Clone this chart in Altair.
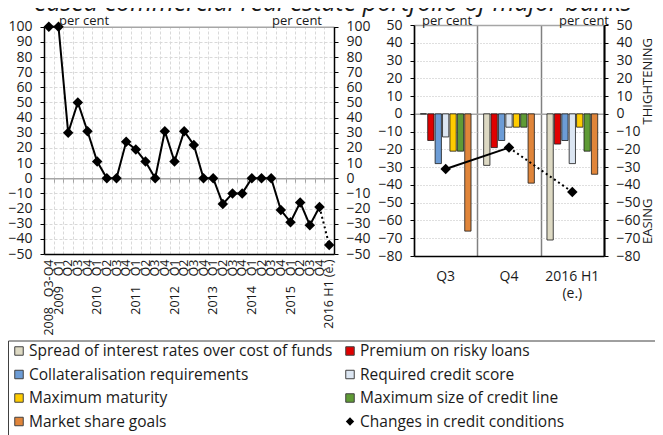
import json
import altair as alt
import pandas as pd

# ---------------- data ----------------
NB = "\u00a0" * 3
period_keys = [
    "2008 Q3-Q4",
    "2009 Q1", "2009 Q2", "2009 Q3", "2009 Q4",
    "2010 Q1", "2010 Q2", "2010 Q3", "2010 Q4",
    "2011 Q1", "2011 Q2", "2011 Q3", "2011 Q4",
    "2012 Q1", "2012 Q2", "2012 Q3", "2012 Q4",
    "2013 Q1", "2013 Q2", "2013 Q3", "2013 Q4",
    "2014 Q1", "2014 Q2", "2014 Q3", "2014 Q4",
    "2015 Q1", "2015 Q2", "2015 Q3", "2015 Q4",
    "2016 H1 (e.)",
]
period_labels = [
    "2008" + NB + "Q3-Q4",
    "2009" + NB + "Q1", "Q2", "Q3", "Q4",
    "2010" + NB + "Q1", "Q2", "Q3", "Q4",
    "2011" + NB + "Q1", "Q2", "Q3", "Q4",
    "2012" + NB + "Q1", "Q2", "Q3", "Q4",
    "2013" + NB + "Q1", "Q2", "Q3", "Q4",
    "2014" + NB + "Q1", "Q2", "Q3", "Q4",
    "2015" + NB + "Q1", "Q2", "Q3", "Q4",
    "2016 H1 (e.)",
]
change_values = [100, 100, 30, 50, 31, 11, 0, 0, 24, 19, 11, 0, 31, 11, 31, 22,
                 0, 0, -17, -10, -10, 0, 0, 0, -21, -29, -16, -31, -19, -44]

groups = ["Q3", "Q4", "2016 H1 (e.)"]
series = [
    "Spread of interest rates over cost of funds",
    "Premium on risky loans",
    "Collateralisation requirements",
    "Required credit score",
    "Maximum maturity",
    "Maximum size of credit line",
    "Market share goals",
]
series_colors = ["#DDD9C3", "#E00000", "#6C9CD6", "#DCE6F2", "#FFCC00", "#5F9B35", "#E0853A"]
q3_values = [0, -15, -28, -13, -21, -21, -66]
q4_values = [-29, -19, -15, -7.5, -7.5, -7.5, -39]
h1_values = [-71, -17, -15, -28, -7.5, -21, -34]
recent_changes = [-31, -19, -44]
line_label = "Changes in credit conditions"

title_text = "eased commercial real estate portfolio of major banks"
unit_text = "per cent"
tight_text = "THIGHTENING"
easing_text = "EASING"

# ---------------- layout / style ----------------
W, H = 647, 427
FONT = "Open Sans"
TXT = "#1a1a1a"
LX = [36, 326]
LY = [246, 18.7]          # pixel range for -50 .. 100
RX = [406, 596]
RY = [248, 17]            # pixel range for -80 .. 50
L_DOM = [-50, 100]
R_DOM = [-80, 50]
l_zero = LY[0] + (0 - L_DOM[0]) / (L_DOM[1] - L_DOM[0]) * (LY[1] - LY[0])
r_zero = RY[0] + (0 - R_DOM[0]) / (R_DOM[1] - R_DOM[0]) * (RY[1] - RY[0])

ldf = pd.DataFrame({"period": period_keys, "value": change_values})
l_solid = ldf.iloc[:-1]
l_dot = ldf.iloc[-2:]

rows = []
for g, vals in zip(groups, [q3_values, q4_values, h1_values]):
    for s, v in zip(series, vals):
        rows.append({"period": g, "series": s, "value": v})
bdf = pd.DataFrame(rows)
rline = pd.DataFrame({"period": groups, "value": recent_changes})

color_scale = alt.Scale(domain=series, range=series_colors)

lx_scale = alt.Scale(domain=period_keys, range=LX, paddingInner=0, paddingOuter=0)
ly_scale = alt.Scale(domain=L_DOM, range=LY, nice=False, zero=False)
rx_scale = alt.Scale(domain=groups, range=RX, paddingInner=0, paddingOuter=0)
ry_scale = alt.Scale(domain=R_DOM, range=RY, nice=False, zero=False)

lab = dict(labelFont=FONT, labelColor=TXT, title=None)
YFS = 14

# ---- left panel axes
ax_l_top = alt.Axis(orient="top", offset=-LY[1], grid=True, gridColor="#D9D9D9",
                    gridDash=[3, 2], gridWidth=1, domain=True, domainColor="#A6A6A6",
                    domainWidth=1.5, ticks=False, labels=False, tickBand="extent", title=None)
ax_l_zero = alt.Axis(orient="bottom", offset=l_zero - H, grid=False, domain=True,
                     domainColor="#A6A6A6", domainWidth=1.5, ticks=True, tickColor="#A6A6A6",
                     tickSize=4, tickBand="extent", labels=False, title=None)
ax_l_lab = alt.Axis(orient="bottom", offset=LY[0] - H, grid=False, domain=True,
                    domainColor="#000000", domainWidth=1.5, ticks=False,
                    labelExpr=f"{json.dumps(period_labels, ensure_ascii=False)}"
                              f"[indexof({json.dumps(period_keys)}, datum.value)]",
                    labelAngle=270, labelAlign="right", labelBaseline="middle",
                    labelPadding=5, labelFontSize=12.5, labelOverlap=False,
                    labelLimit=300, **lab)
l_vals = list(range(L_DOM[0], L_DOM[1] + 1, 10))
ax_l_left = alt.Axis(orient="left", offset=-LX[0], values=l_vals, grid=True,
                     gridColor="#D9D9D9", gridDash=[3, 2], domain=True, domainColor="#000000",
                     domainWidth=1.5, ticks=True, tickColor="#000000", tickSize=4,
                     labelPadding=8, labelFontSize=YFS, **lab)
ax_l_right = alt.Axis(orient="right", offset=LX[1] - W, values=l_vals, grid=False,
                      domain=True, domainColor="#000000", domainWidth=1.5, ticks=True,
                      tickColor="#000000", tickSize=4, labelPadding=8, labelFontSize=YFS,
                      **lab)

left_line = alt.Chart(l_solid).mark_line(color="black", strokeWidth=2).encode(
    x=alt.X("period:N", scale=lx_scale, axis=ax_l_top),
    y=alt.Y("value:Q", scale=ly_scale, axis=ax_l_left),
)
left_dot = alt.Chart(l_dot).mark_line(color="black", strokeWidth=2, strokeDash=[2, 3]).encode(
    x=alt.X("period:N", scale=lx_scale, axis=ax_l_zero),
    y=alt.Y("value:Q", scale=ly_scale, axis=ax_l_right),
)
left_pts = alt.Chart(ldf).mark_point(shape="diamond", filled=True, size=110,
                                     color="black", opacity=1).encode(
    x=alt.X("period:N", scale=lx_scale, axis=ax_l_lab),
    y=alt.Y("value:Q", scale=ly_scale, axis=None),
)
left = alt.layer(left_line, left_dot, left_pts).resolve_axis(x="independent", y="independent")

# ---- right panel axes
r_vals = list(range(R_DOM[0], R_DOM[1] + 1, 10))
ax_r_lab = alt.Axis(orient="bottom", offset=RY[0] - H, grid=False, domain=True,
                    domainColor="#000000", domainWidth=1.5, ticks=False,
                    labelExpr="datum.value == '2016 H1 (e.)' ? ['2016 H1', '(e.)'] : datum.value",
                    labelAngle=0, labelPadding=13, labelFontSize=YFS, labelLineHeight=17,
                    **lab)
ax_r_sep = alt.Axis(orient="top", offset=-RY[1], grid=True, gridColor="#808080",
                    gridWidth=1.5, domain=True, domainColor="#A6A6A6", domainWidth=1.5,
                    ticks=False, labels=False, tickBand="extent", title=None)
ax_r_zero = alt.Axis(orient="bottom", offset=r_zero - H, grid=False, domain=True,
                     domainColor="#A6A6A6", domainWidth=1.5, ticks=False, labels=False,
                     title=None)
ax_r_left = alt.Axis(orient="left", offset=-RX[0], values=r_vals, grid=True,
                     gridColor="#BFBFBF", gridDash=[1, 2], domain=True, domainColor="#000000",
                     domainWidth=1.5, ticks=True, tickColor="#000000", tickSize=4,
                     labelPadding=8, labelFontSize=YFS, **lab)
ax_r_right = alt.Axis(orient="right", offset=RX[1] - W, values=r_vals, grid=False,
                      domain=True, domainColor="#000000", domainWidth=2, ticks=True,
                      tickColor="#000000", tickSize=4, labelPadding=8, labelFontSize=YFS,
                      **lab)

r_bars = alt.Chart(bdf).mark_bar(stroke="#1a1a1a", strokeWidth=0.8).encode(
    x=alt.X("period:N", scale=rx_scale, axis=ax_r_lab),
    xOffset=alt.XOffset("series:N", scale=alt.Scale(domain=series, paddingInner=0.15,
                                                   paddingOuter=0.85)),
    y=alt.Y("value:Q", scale=ry_scale, axis=ax_r_left),
    color=alt.Color("series:N", scale=color_scale, legend=None),
)
r_line = alt.Chart(rline.iloc[:2]).mark_line(color="black", strokeWidth=2).encode(
    x=alt.X("period:N", scale=rx_scale, axis=ax_r_sep),
    y=alt.Y("value:Q", scale=ry_scale, axis=ax_r_right),
)
r_dot = alt.Chart(rline.iloc[1:]).mark_line(color="black", strokeWidth=2,
                                            strokeDash=[2, 3]).encode(
    x=alt.X("period:N", scale=rx_scale, axis=ax_r_zero),
    y=alt.Y("value:Q", scale=ry_scale, axis=None),
)
r_pts = alt.Chart(rline).mark_point(shape="diamond", filled=True, size=110,
                                    color="black", opacity=1).encode(
    x=alt.X("period:N", scale=rx_scale, axis=None),
    y=alt.Y("value:Q", scale=ry_scale, axis=None),
)
one = pd.DataFrame({"k": [0]})
r_tight = alt.Chart(one).mark_text(text=tight_text, angle=270, font=FONT, fontSize=13,
                                   color=TXT, align="center", baseline="middle").encode(
    x=alt.value(640), y=alt.YDatum(18.4, scale=ry_scale, axis=None))
r_ease = alt.Chart(one).mark_text(text=easing_text, angle=270, font=FONT, fontSize=13,
                                  color=TXT, align="center", baseline="middle").encode(
    x=alt.value(640), y=alt.YDatum(-60.5, scale=ry_scale, axis=None))
right = alt.layer(r_bars, r_line, r_dot, r_pts, r_tight, r_ease).resolve_axis(
    x="independent", y="independent")

# ---- legend (own scales)
legend_items = series + [line_label]
leg = pd.DataFrame({
    "label": legend_items,
    "col": [i % 2 for i in range(len(legend_items))],
    "row": [i // 2 for i in range(len(legend_items))],
})
lgx = alt.Scale(domain=[0, 1], range=[11, 342])
lgy = alt.Scale(domain=[0, 3], range=[343, 413.5])
lg_box = alt.Chart(one).mark_rect(fill="white", fillOpacity=0, stroke="#404040",
                                  strokeWidth=1).encode(
    x=alt.value(0.5), x2=alt.value(W + 30), y=alt.value(333), y2=alt.value(H + 30))
lg_sq = alt.Chart(leg[leg["label"].isin(series)]).mark_point(
    shape="square", filled=True, size=72, stroke="#404040", strokeWidth=1, opacity=1).encode(
    x=alt.X("col:Q", scale=lgx, axis=None),
    y=alt.Y("row:Q", scale=lgy, axis=None),
    fill=alt.Fill("label:N", scale=color_scale, legend=None),
)
lg_dia = alt.Chart(leg[leg["label"] == line_label]).mark_point(
    shape="diamond", filled=True, size=70, color="black", opacity=1).encode(
    x=alt.X("col:Q", scale=lgx, axis=None),
    y=alt.Y("row:Q", scale=lgy, axis=None),
)
lg_txt = alt.Chart(leg).mark_text(align="left", baseline="middle", dx=10, font=FONT,
                                  fontSize=15.5, color=TXT).encode(
    x=alt.X("col:Q", scale=lgx, axis=None),
    y=alt.Y("row:Q", scale=lgy, axis=None),
    text="label:N",
)
legend = alt.layer(lg_box, lg_sq, lg_dia, lg_txt)

# ---- annotations
def label(text, x, y, align, **kw):
    return alt.Chart(one).mark_text(text=text, font=FONT, color=TXT, align=align,
                                    baseline="alphabetic", **kw).encode(
        x=alt.value(x), y=alt.value(y))

annot = alt.layer(
    label(title_text, 26, 3, "left", fontSize=25, fontStyle="italic"),
    label(unit_text, 51, 16.5, "left", fontSize=13),
    label(unit_text, 314, 16.5, "right", fontSize=13),
    label(unit_text, 414, 16.5, "left", fontSize=13),
    label(unit_text, 601, 16.5, "right", fontSize=13),
)

chart = alt.layer(left, right, legend, annot).resolve_scale(
    x="independent", y="independent"
).properties(
    width=W, height=H, padding=0, autosize=alt.AutoSizeParams(type="none")
).configure_view(stroke=None)

chart.save("out.html", embed_options={"renderer": "svg", "actions": False})
